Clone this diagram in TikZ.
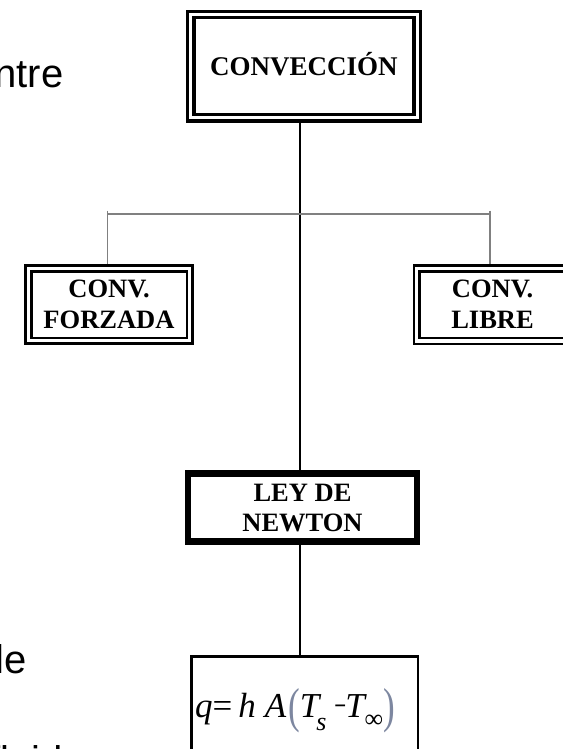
\documentclass[tikz,border=0pt]{standalone}
\usepackage{fontspec}
\setmainfont{Liberation Serif}
\newfontfamily\slidefont{Liberation Sans}
\definecolor{branchgray}{RGB}{128,128,128}
\definecolor{parengray}{RGB}{125,135,160}
\newcommand{\eqparen}[1]{\raisebox{-5.2pt}{\textcolor{parengray}{\scalebox{1}[1.4]{#1}}}}
\begin{document}
\begin{tikzpicture}[x=1pt, y=-1pt,
    dblbox/.style={draw, double, line width=2.5pt, double distance=3.3pt, outer sep=4.15pt,
      inner sep=0pt, align=center, font=\fontsize{26.5}{31}\selectfont\bfseries},
    leybox/.style={draw, line width=6.5pt, inner sep=0pt, align=center,
      font=\fontsize{26.5}{30}\selectfont\bfseries},
    eqbox/.style={draw, line width=2.7pt, inner xsep=3.7pt, inner ysep=0pt, align=left,
      font=\fontsize{35}{40}\selectfont},
    slidetext/.style={inner sep=0pt, font=\slidefont\fontsize{40}{48}\selectfont},
    trunk/.style={draw, line width=1.7pt},
    branch/.style={draw=branchgray, line width=1.4pt}]
  \useasboundingbox (0,0) rectangle (562,749);

  % cut-off slide text on the left
  \node[slidetext, anchor=base east] (entre) at (63.6,88) {ntre};
  \node[slidetext, anchor=base east] (de) at (26.6,673) {le};
  \node[slidetext, anchor=base west] (fluido) at (-11,774) {fluido};

  \node[dblbox, line width=3.3pt, double distance=3pt, outer sep=4.8pt,
    minimum width=226.3pt, minimum height=103.1pt, font=\fontsize{27}{31}\selectfont\bfseries,
    text height=18.2pt, text depth=0pt] (conv) at (303.9,66.2) {CONVECCIÓN};
  \node[dblbox, minimum width=161.3pt, minimum height=72.2pt] (forzada) at (109,304.7) {CONV.\\FORZADA};
  \node[dblbox, minimum width=151.6pt, minimum height=72.3pt] (libre) at (492.5,304.7) {CONV.\\LIBRE};
  \node[leybox, minimum width=228.6pt, minimum height=67.8pt] (ley) at (302.5,507.6) {LEY DE\\NEWTON};
  \node[eqbox, minimum width=226.7pt, minimum height=109.4pt, text width=219.3pt] (formula) at (304.7,711)
    {{\itshape q}=\hspace{6pt}{\itshape h}\hspace{9pt}{\itshape A}\hspace{2pt}\eqparen{(}{\itshape T}\hspace{-3pt}\raisebox{-13pt}{\fontsize{26}{26}\selectfont\itshape s}\hspace{8pt}\scalebox{0.6}[1]{−}\hspace{-1pt}{\itshape T}\raisebox{-10pt}{\fontsize{26}{26}\selectfont ∞}\eqparen{)}};

  \coordinate (split) at (300,214);
  \coordinate (lft) at (107.3,210.5);
  \coordinate (rgt) at (490,210.5);

  \draw[trunk] (conv.south -| split) -- (ley.north -| split);
  \draw[trunk] (ley.south -| split) -- (formula.north -| split);
  \draw[branch] (lft |- split) -- (rgt |- split);
  \draw[branch] (lft) -- (lft |- forzada.north);
  \draw[branch] (rgt) -- (rgt |- libre.north);
\end{tikzpicture}
\end{document}
